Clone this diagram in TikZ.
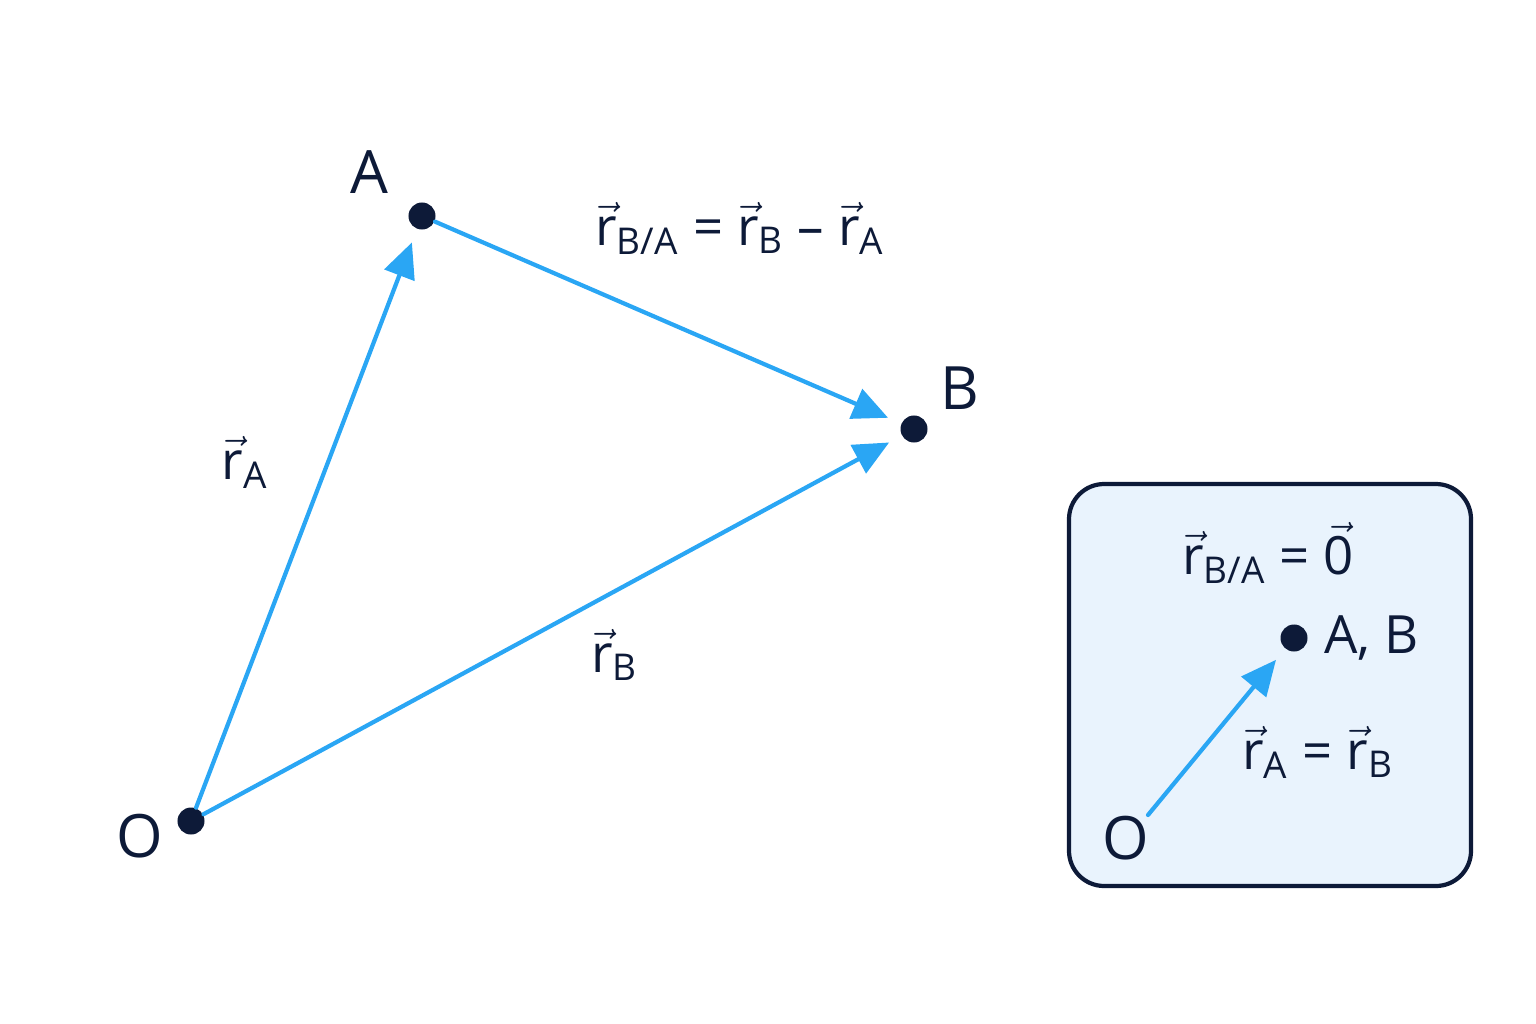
\documentclass[tikz,border=0pt]{standalone}
\usepackage{amsmath}
\usepackage{fontspec}
\setmainfont{Open Sans}
\usetikzlibrary{positioning,arrows.meta}
\definecolor{navy}{HTML}{0D1A38}
\definecolor{vecblue}{HTML}{2AA6F4}
\definecolor{boxfill}{HTML}{E9F3FD}
\newcommand{\vr}[1]{$\vec{\text{r}}_{\text{#1}}$}
\begin{document}
\begin{tikzpicture}[x=0.01cm,y=-0.01cm, font=\fontsize{15}{18}\selectfont, line cap=round, line join=round,
    pt/.style={circle, fill=navy, inner sep=0pt, minimum size=0.27cm},
    lbl/.style={text=navy, font=\fontsize{17}{20}\selectfont},
    eq/.style={text=navy},
    vec/.style={draw=vecblue, line width=1.2pt, -{Triangle[length=10pt,width=9pt]}, shorten >=4pt}]
    % ===== khung =====
    \useasboundingbox (0,0) rectangle (1536,1024);
    
    % ===== các điểm =====
    \node[pt] (O) at (191,821) {};
    \node[pt] (A) at (422,216) {};
    \node[pt] (B) at (914,429) {};
    \node[lbl] (lO) at (140,836) {O};
    \node[lbl] (lA) at (369,172) {A};
    \node[lbl] (lB) at (960,388) {B};
    
    % ===== các vectơ =====
    \draw[vec] (O) -- (A);
    \draw[vec] (O) -- (B);
    \draw[vec] (A) -- (B);
    \node[eq] (rA) at (245,462) {\vr{A}};
    \node[eq] (rB) at (615,655) {\vr{B}};
    \node[eq] (rBA) at (740,228) {\vr{B/A} = \vr{B} -- \vr{A}};
    
    % ===== hộp: A trùng B =====
    \draw[navy, fill=boxfill, line width=1.2pt, rounded corners=10pt] (1069,484) rectangle (1471,886);
    \node[eq] (zero) at (1268,553) {\vr{B/A} = $\vec{\text{0}}$};
    \node[pt] (P) at (1294,638) {};
    \node[eq, right=1pt of P] (lP) {A, B};
    \coordinate (O2) at (1148,815);
    \node[lbl] (lO2) at (1126,838) {O};
    \draw[vec] (O2) -- (P);
    \node[eq] (eqAB) at (1318,752) {\vr{A} = \vr{B}};
\end{tikzpicture}
\end{document}
